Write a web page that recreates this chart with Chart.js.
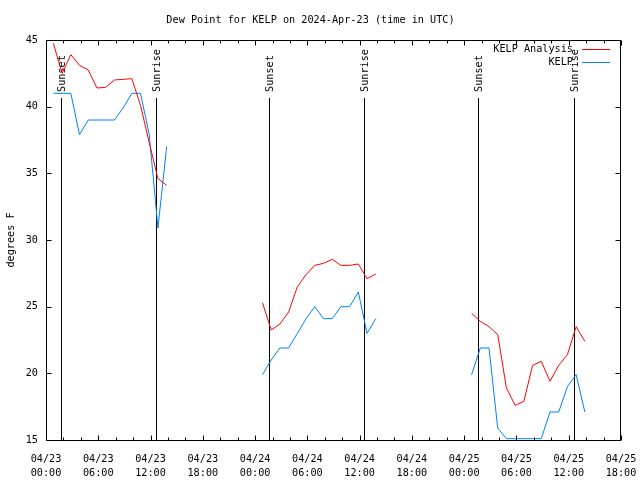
<!DOCTYPE html>
<html lang="en">
<head>
    <meta charset="UTF-8">
    <title>Dew Point for KELP</title>
    <script src="https://cdn.jsdelivr.net/npm/chart.js"></script>
    <style>
        html, body { margin: 0; padding: 0; background: #fff; }
        .chart-container { width: 640px; height: 480px; }
    </style>
</head>
<body>
    <div class="chart-container">
        <canvas id="dewChart" width="640" height="480"></canvas>
    </div>

    <script>
        // hours since 04/23 00:00 UTC (obs at :51 past the hour)
        const hoursDay1 = [0.85, 1.85, 2.85, 3.85, 4.85, 5.85, 6.85, 7.85, 8.85, 9.85, 10.85, 11.85, 12.85, 13.85];
        const hoursDay2 = [24.85, 25.85, 26.85, 27.85, 28.85, 29.85, 30.85, 31.85, 32.85, 33.85, 34.85, 35.85, 36.85, 37.85];
        const hoursDay3 = [48.85, 49.85, 50.85, 51.85, 52.85, 53.85, 54.85, 55.85, 56.85, 57.85, 58.85, 59.85, 60.85, 61.85];

        // KELP Analysis (red)
        const analysisDay1 = [44.75, 42.5, 43.9, 43.1, 42.75, 41.4, 41.45, 42.0, 42.05, 42.1, 40.1, 37.3, 34.6, 34.1];
        const analysisDay2 = [25.3, 23.25, 23.7, 24.6, 26.5, 27.4, 28.1, 28.25, 28.55, 28.1, 28.1, 28.2, 27.1, 27.45];
        const analysisDay3 = [24.5, 23.9, 23.5, 22.9, 18.9, 17.6, 17.9, 20.6, 20.9, 19.4, 20.6, 21.4, 23.5, 22.4];

        // KELP obs (blue)
        const kelpDay1 = [41.0, 41.0, 41.0, 37.9, 39.0, 39.0, 39.0, 39.0, 39.9, 41.0, 41.0, 37.9, 30.9, 37.0];
        const kelpDay2 = [19.9, 21.0, 21.9, 21.9, 23.0, 24.1, 25.0, 24.1, 24.1, 25.0, 25.0, 26.1, 23.0, 24.1];
        const kelpDay3 = [19.9, 21.9, 21.9, 15.9, 15.1, 15.1, 15.1, 15.1, 15.1, 17.1, 17.1, 19.0, 19.9, 17.1];

        const sunHours = [1.69, 12.59, 25.63, 36.54, 49.62, 60.57];
        const sunLabels = ['Sunset', 'Sunrise', 'Sunset', 'Sunrise', 'Sunset', 'Sunrise'];

        const tickDays = ['04/23', '04/23', '04/23', '04/23', '04/24', '04/24', '04/24', '04/24', '04/25', '04/25', '04/25', '04/25'];
        const tickTimes = ['00:00', '06:00', '12:00', '18:00', '00:00', '06:00', '12:00', '18:00', '00:00', '06:00', '12:00', '18:00'];

        const FONT = "'DejaVu Sans Mono', 'Liberation Mono', monospace";

        function toPoints(hourSets, valueSets) {
            let pts = [];
            hourSets.forEach((hrs, s) => {
                if (s > 0) pts.push({ x: (hourSets[s - 1][hrs.length - 1] + hrs[0]) / 2, y: null });
                hrs.forEach((h, i) => pts.push({ x: h, y: valueSets[s][i] }));
            });
            return pts;
        }

        const hourSets = [hoursDay1, hoursDay2, hoursDay3];

        // sunrise / sunset markers
        const sunLines = {
            id: 'sunLines',
            beforeDatasetsDraw(chart) {
                const { ctx, chartArea, scales } = chart;
                ctx.save();
                ctx.strokeStyle = '#000';
                ctx.lineWidth = 1;
                ctx.fillStyle = '#000';
                ctx.font = '10.2px ' + FONT;
                sunHours.forEach((h, i) => {
                    const x = Math.round(scales.x.getPixelForValue(h)) + 0.5;
                    ctx.beginPath();
                    ctx.moveTo(x, chartArea.top + 58);
                    ctx.lineTo(x, chartArea.bottom);
                    ctx.stroke();
                    ctx.save();
                    ctx.translate(x + 1, chartArea.top + 52);
                    ctx.rotate(-Math.PI / 2);
                    ctx.textAlign = 'left';
                    ctx.textBaseline = 'middle';
                    ctx.fillText(sunLabels[i], 0, 0);
                    ctx.restore();
                });
                ctx.restore();
            }
        };

        // gnuplot style frame with inward ticks, and the key
        const frameAndKey = {
            id: 'frameAndKey',
            afterDraw(chart) {
                const { ctx, chartArea, scales } = chart;
                const l = chartArea.left + 0.5, r = chartArea.right - 0.5;
                const t = chartArea.top + 0.5, b = chartArea.bottom + 0.5;
                ctx.save();
                ctx.strokeStyle = '#000';
                ctx.lineWidth = 1;
                ctx.strokeRect(l, t, r - l, b - t);

                ctx.beginPath();
                for (let v = scales.x.min; v <= scales.x.max; v += 2) {
                    const x = Math.round(scales.x.getPixelForValue(v)) + 0.5;
                    const len = v % 6 === 0 ? 5 : 3;
                    ctx.moveTo(x, b); ctx.lineTo(x, b - len);
                    ctx.moveTo(x, t); ctx.lineTo(x, t + len);
                }
                scales.y.ticks.forEach(tk => {
                    const y = Math.round(scales.y.getPixelForValue(tk.value)) + 0.5;
                    ctx.moveTo(l, y); ctx.lineTo(l + 5, y);
                    ctx.moveTo(r, y); ctx.lineTo(r - 5, y);
                });
                ctx.stroke();

                // key
                ctx.font = '10.2px ' + FONT;
                ctx.textAlign = 'right';
                ctx.textBaseline = 'middle';
                chart.data.datasets.forEach((ds, i) => {
                    const y = chartArea.top + 9.5 + i * 13;
                    ctx.fillStyle = '#000';
                    ctx.fillText(ds.label, chartArea.right - 48, y);
                    ctx.strokeStyle = ds.borderColor;
                    ctx.beginPath();
                    ctx.moveTo(chartArea.right - 39, y);
                    ctx.lineTo(chartArea.right - 11, y);
                    ctx.stroke();
                });
                ctx.restore();
            }
        };

        const ctx = document.getElementById('dewChart').getContext('2d');

        new Chart(ctx, {
            type: 'line',
            data: {
                datasets: [
                    {
                        label: 'KELP Analysis',
                        data: toPoints(hourSets, [analysisDay1, analysisDay2, analysisDay3]),
                        borderColor: '#ff0000',
                        borderWidth: 1,
                        pointRadius: 0,
                        tension: 0,
                        spanGaps: false
                    },
                    {
                        label: 'KELP',
                        data: toPoints(hourSets, [kelpDay1, kelpDay2, kelpDay3]),
                        borderColor: 'rgb(0,128,255)',
                        borderWidth: 1,
                        pointRadius: 0,
                        tension: 0,
                        spanGaps: false
                    }
                ]
            },
            options: {
                responsive: false,
                animation: false,
                layout: { autoPadding: false, padding: { left: 0, right: 19, top: 0, bottom: 0 } },
                plugins: {
                    legend: { display: false },
                    tooltip: { enabled: false },
                    title: {
                        display: true,
                        text: 'Dew Point for KELP on 2024-Apr-23 (time in UTC)',
                        color: '#000',
                        font: { family: FONT, size: 10.2, weight: 'normal', lineHeight: '12px' },
                        padding: { top: 14, bottom: 14 }
                    }
                },
                scales: {
                    x: {
                        type: 'linear',
                        min: 0,
                        max: 66,
                        afterFit: (s) => { s.height = 40; s.paddingLeft = 0; s.paddingRight = 0; },
                        grid: { display: false, drawTicks: false },
                        border: { display: false },
                        ticks: {
                            stepSize: 6,
                            autoSkip: false,
                            maxRotation: 0,
                            padding: 12,
                            color: '#000',
                            font: { family: FONT, size: 10.2, lineHeight: '14px' },
                            callback: (v, i) => [tickDays[i], tickTimes[i]]
                        }
                    },
                    y: {
                        min: 15,
                        max: 45,
                        afterFit: (s) => { s.width = 46; s.paddingTop = 0; s.paddingBottom = 0; },
                        grid: { display: false, drawTicks: false },
                        border: { display: false },
                        ticks: {
                            stepSize: 5,
                            padding: 8,
                            color: '#000',
                            font: { family: FONT, size: 10.2 }
                        },
                        title: {
                            display: true,
                            text: 'degrees F',
                            color: '#000',
                            font: { family: FONT, size: 10.2, lineHeight: '12px' },
                            padding: { top: 5, bottom: 0 }
                        }
                    }
                }
            },
            plugins: [sunLines, frameAndKey]
        });
    </script>
</body>
</html>
